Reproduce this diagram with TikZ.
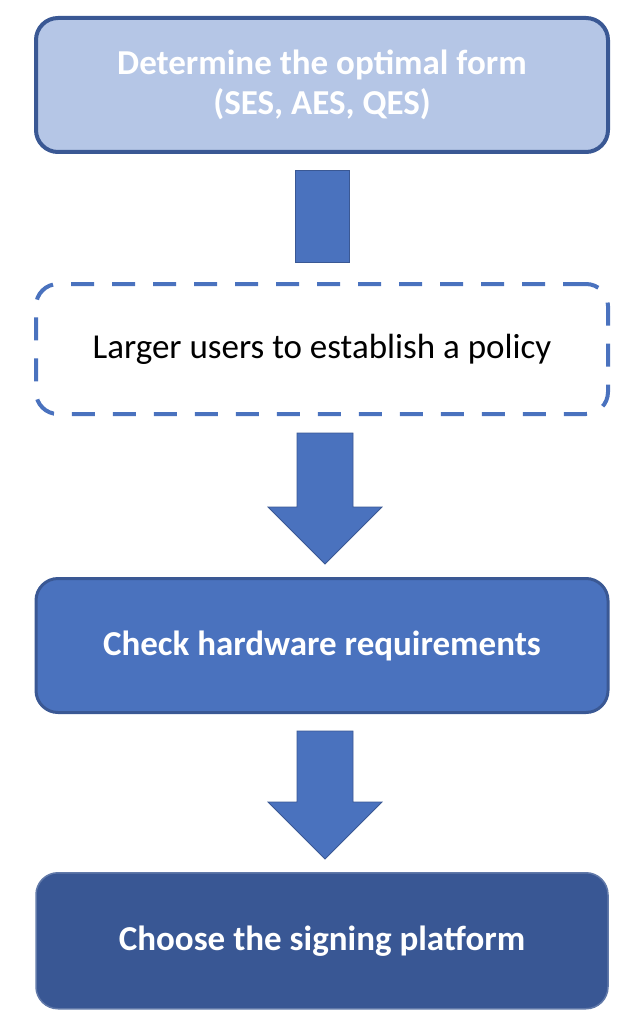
\documentclass[tikz,border=0pt]{standalone}
\usepackage{fontspec}
\setmainfont{Carlito}
\usetikzlibrary{positioning,calc}

\definecolor{paleblue}{HTML}{B5C6E6}
\definecolor{edgeblue}{HTML}{3A5894}
\definecolor{midblue}{HTML}{4A72BE}
\definecolor{deepblue}{HTML}{395794}

\tikzset{
  stepbox/.style={rounded corners=22pt, minimum width=572pt, minimum height=134pt,
    align=center, text=white, font=\bfseries\fontsize{35}{40}\selectfont},
  formbox/.style={stepbox, fill=paleblue, draw=edgeblue, line width=4pt},
  policybox/.style={stepbox, minimum height=130pt, draw=midblue, line width=4pt,
    dash pattern=on 23pt off 18pt, text=black, font=\fontsize{35}{40}\selectfont},
  hardbox/.style={stepbox, fill=midblue, draw=edgeblue, line width=3pt},
  platbox/.style={stepbox, fill=deepblue, draw=edgeblue!80!white, line width=1.5pt},
  blockarrow/.style={fill=midblue, draw=edgeblue, line width=0.8pt, line join=miter}
}

\begin{document}
\begin{tikzpicture}[x=1pt, y=1pt]
    \useasboundingbox (0,0) rectangle (640,-1024);

    % Steps
    \node[formbox] (form) at (322,-85) {Determine the optimal form\\(SES, AES, QES)};
    \node[policybox, below=128pt of form] (policy) {Larger users to establish a policy};
    \node[hardbox, below=161pt of policy] (hardware) {Check hardware requirements};
    \node[platbox, below=158pt of hardware, minimum height=136pt] (platform) {Choose the signing platform};

    % Bar from form to policy
    \draw[blockarrow] ($(form.south)+(-27,-16)$) rectangle ($(policy.north)+(27,20)$);

    % Block arrows
    \foreach \a/\b in {policy/hardware, hardware/platform} {
        \coordinate (top) at ($(\a.south)+(3,-17)$);
        \coordinate (tip) at ($(\b.north)+(3,13)$);
        \draw[blockarrow] ($(top)+(-28,0)$) -- ($(top)+(28,0)$) -- ($(tip)+(28,57)$)
            -- ($(tip)+(57,57)$) -- (tip) -- ($(tip)+(-57,57)$) -- ($(tip)+(-28,57)$) -- cycle;
    }
\end{tikzpicture}
\end{document}
